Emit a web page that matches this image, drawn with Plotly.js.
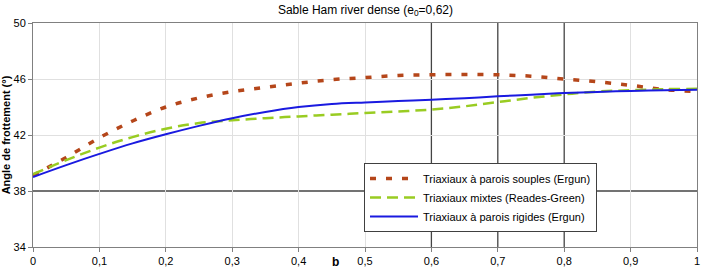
<!DOCTYPE html>
<html>
<head>
<meta charset="utf-8">
<script src="https://cdn.plot.ly/plotly-3.0.1.min.js"></script>
<style>html,body{margin:0;padding:0;background:#fff;}#chart{width:706px;height:272px;}</style>
</head>
<body>
<div id="chart"></div>
<script>
const bValues = [0, 0.05, 0.1, 0.15, 0.2, 0.25, 0.3, 0.35, 0.4, 0.45, 0.5, 0.55, 0.6, 0.65, 0.7, 0.75, 0.8, 0.85, 0.9, 0.95, 1];
const souples = [39.1, 40.4, 41.8, 43.0, 44.0, 44.65, 45.1, 45.4, 45.7, 45.95, 46.1, 46.25, 46.3, 46.32, 46.3, 46.2, 46.0, 45.8, 45.55, 45.25, 45.1];
const mixtes  = [39.2, 40.2, 41.1, 41.85, 42.45, 42.85, 43.05, 43.2, 43.33, 43.45, 43.57, 43.68, 43.82, 44.05, 44.35, 44.65, 44.9, 45.1, 45.2, 45.27, 45.3];
const rigides = [39.0, 39.85, 40.65, 41.4, 42.05, 42.65, 43.2, 43.65, 44.0, 44.22, 44.33, 44.42, 44.52, 44.63, 44.76, 44.88, 45.0, 45.08, 45.15, 45.2, 45.24];
const seriesNames = ["Triaxiaux à parois souples (Ergun)", "Triaxiaux mixtes (Reades-Green)", "Triaxiaux à parois rigides (Ergun)"];
const xTicks = [0, 0.1, 0.2, 0.3, 0.4, 0.5, 0.6, 0.7, 0.8, 0.9, 1];
const yTicks = [34, 38, 42, 46, 50];
const darkGridX = [0.6, 0.7, 0.8];
const darkGridY = [38];

const FONT = "Liberation Sans, Arial, sans-serif";
const traces = [
  {x: bValues, y: souples, name: seriesNames[0], mode: "lines",
   line: {color: "#b5461a", width: 3.5, dash: "6px,10px", shape: "spline"}},
  {x: bValues, y: mixtes, name: seriesNames[1], mode: "lines",
   line: {color: "#99cc22", width: 2.5, dash: "11px,6px", shape: "spline"}},
  {x: bValues, y: rigides, name: seriesNames[2], mode: "lines",
   line: {color: "#1a1ae0", width: 2, shape: "spline"}}
];

const lightGridX = xTicks.filter(v => !darkGridX.includes(v));
const lightGridY = yTicks.filter(v => !darkGridY.includes(v));
const shapes = [];
darkGridX.forEach(v => shapes.push({type: "line", xref: "x", yref: "paper", x0: v, x1: v, y0: 0, y1: 1, layer: "below", line: {color: "#444", width: 1.3}}));
darkGridY.forEach(v => shapes.push({type: "line", xref: "paper", yref: "y", x0: 0, x1: 1, y0: v, y1: v, layer: "below", line: {color: "#444", width: 1.3}}));

const layout = {
  width: 706, height: 272,
  margin: {l: 33, r: 9, t: 23, b: 25},
  paper_bgcolor: "#fff", plot_bgcolor: "#fff",
  separators: ", ",
  font: {family: FONT, size: 11, color: "#000"},
  title: {text: "Sable Ham river dense (e<sub>0</sub>=0,62)", font: {family: FONT, size: 12, color: "#000"}, x: 0.5176, xanchor: "center", y: 0.965, yanchor: "middle"},
  showlegend: true,
  legend: {x: 0.4985, y: 0.375, xanchor: "left", yanchor: "top", bgcolor: "#fff", bordercolor: "#404040", borderwidth: 1,
           font: {family: FONT, size: 11}, tracegroupgap: 0, itemwidth: 48, entrywidth: 205},
  xaxis: {range: [0, 1], tickvals: xTicks, ticks: "outside", ticklen: 4, tickcolor: "#808080",
          showgrid: false, zeroline: false, showline: true, linecolor: "#808080", mirror: true,
          minor: {tickvals: lightGridX, showgrid: true, gridcolor: "#e0e0e0", ticks: ""},
          tickfont: {family: FONT, size: 11}, fixedrange: true},
  yaxis: {range: [34, 50], tickvals: yTicks, ticks: "outside", ticklen: 4, tickcolor: "#808080",
          showgrid: false, zeroline: false, showline: true, linecolor: "#808080", mirror: true,
          minor: {tickvals: lightGridY, showgrid: true, gridcolor: "#e0e0e0", ticks: ""},
          tickfont: {family: FONT, size: 11},
          title: {text: "<b>Angle de frottement (°)</b>", font: {family: FONT, size: 11}, standoff: 4}, fixedrange: true},
  shapes: shapes,
  annotations: [{text: "<b>b</b>", xref: "x", yref: "paper", x: 0.455, y: 0, yshift: -15, showarrow: false, font: {family: FONT, size: 12}, yanchor: "middle"}]
};

Plotly.newPlot("chart", traces, layout, {staticPlot: true, displayModeBar: false});
</script>
</body>
</html>
